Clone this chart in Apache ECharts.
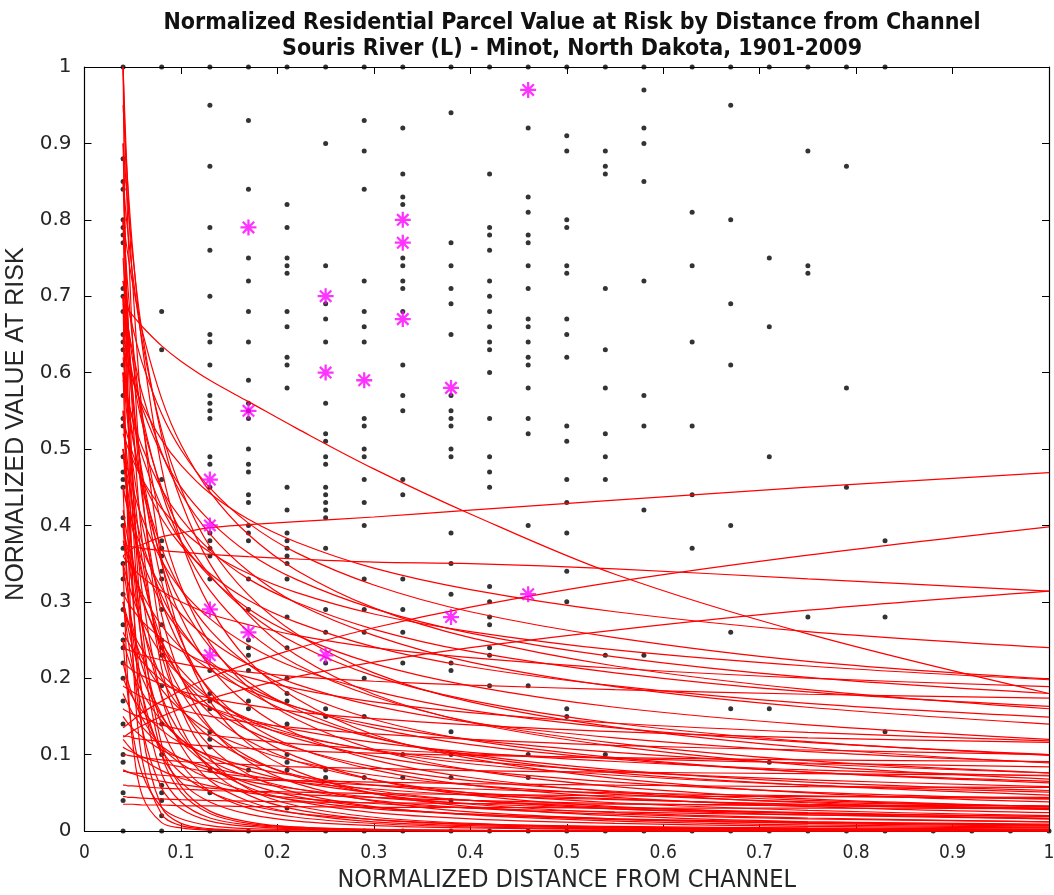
<!DOCTYPE html>
<html>
<head>
<meta charset="utf-8">
<script src="https://cdn.jsdelivr.net/npm/echarts@6/dist/echarts.min.js"></script>
<style>
  html, body { margin: 0; padding: 0; background: #fff; }
  #chart { width: 1054px; height: 895px; }
</style>
</head>
<body>
<div id="chart"></div>
<script>
// ---- Axis ticks ----
const xTicks = [0, 0.1, 0.2, 0.3, 0.4, 0.5, 0.6, 0.7, 0.8, 0.9, 1];
const yTicks = [0, 0.1, 0.2, 0.3, 0.4, 0.5, 0.6, 0.7, 0.8, 0.9, 1];

// ---- Parcel observations: distance columns and values at risk in each ----
const parcelDistances = [0.04, 0.08, 0.13, 0.17, 0.21, 0.25, 0.29, 0.33, 0.38, 0.42, 0.46, 0.5,
  0.54, 0.58, 0.63, 0.67, 0.71, 0.75, 0.79, 0.83, 0.88, 0.92, 0.96, 1.0];
const parcelValues = [
  [1, 0.88, 0.85, 0.84, 0.80, 0.79, 0.78, 0.77, 0.71, 0.70, 0.68, 0.65, 0.64, 0.63, 0.61, 0.57, 0.54, 0.53, 0.49, 0.47, 0.46, 0.45, 0.41, 0.40, 0.37, 0.35, 0.33, 0.31, 0.29, 0.27, 0.25, 0.24, 0.22, 0.20, 0.17, 0.14, 0.10, 0.09, 0.05, 0.04, 0],
  [1, 0.68, 0.63, 0.46, 0.38, 0.37, 0.36, 0.34, 0.33, 0.29, 0.27, 0.25, 0.24, 0.23, 0.19, 0.14, 0.10, 0.06, 0.05, 0.04, 0.02, 0],
  [1, 0.95, 0.87, 0.79, 0.76, 0.70, 0.65, 0.64, 0.61, 0.57, 0.56, 0.55, 0.54, 0.49, 0.48, 0.45, 0.39, 0.38, 0.37, 0.36, 0.33, 0.21, 0.18, 0.17, 0.16, 0.13, 0.12, 0.11, 0.08, 0.05, 0],
  [1, 0.93, 0.84, 0.75, 0.72, 0.68, 0.64, 0.59, 0.56, 0.55, 0.54, 0.50, 0.48, 0.47, 0.44, 0.43, 0.40, 0.39, 0.38, 0.33, 0.29, 0.25, 0.24, 0.23, 0.21, 0.17, 0.16, 0.08, 0],
  [1, 0.82, 0.79, 0.75, 0.74, 0.73, 0.68, 0.66, 0.62, 0.61, 0.58, 0.45, 0.42, 0.39, 0.38, 0.37, 0.36, 0.35, 0.33, 0.28, 0.24, 0.20, 0.18, 0.17, 0.14, 0.10, 0.09, 0.08, 0.03, 0],
  [1, 0.90, 0.74, 0.69, 0.67, 0.64, 0.56, 0.52, 0.51, 0.49, 0.48, 0.45, 0.44, 0.43, 0.42, 0.41, 0.37, 0.29, 0.26, 0.22, 0.16, 0.15, 0.08, 0.07, 0],
  [1, 0.93, 0.89, 0.84, 0.72, 0.68, 0.66, 0.64, 0.54, 0.53, 0.50, 0.49, 0.46, 0.43, 0.40, 0.33, 0.29, 0.26, 0.20, 0.15, 0.07, 0],
  [1, 0.92, 0.86, 0.83, 0.82, 0.75, 0.74, 0.72, 0.71, 0.68, 0.61, 0.57, 0.55, 0.46, 0.44, 0.33, 0.29, 0.26, 0.22, 0.10, 0.07, 0],
  [1, 0.94, 0.77, 0.74, 0.71, 0.69, 0.65, 0.57, 0.55, 0.54, 0.53, 0.50, 0.49, 0.39, 0.35, 0.31, 0.22, 0.21, 0.13, 0.10, 0.07, 0.04, 0],
  [1, 0.86, 0.79, 0.78, 0.76, 0.72, 0.70, 0.68, 0.66, 0.64, 0.63, 0.60, 0.54, 0.49, 0.47, 0.45, 0.32, 0.30, 0.28, 0.27, 0.24, 0.23, 0.19, 0],
  [1, 0.92, 0.83, 0.81, 0.78, 0.77, 0.74, 0.71, 0.67, 0.66, 0.64, 0.62, 0.61, 0.58, 0.54, 0.52, 0.40, 0.19, 0.10, 0.07, 0],
  [1, 0.91, 0.89, 0.80, 0.79, 0.74, 0.73, 0.67, 0.65, 0.62, 0.53, 0.51, 0.46, 0.43, 0.39, 0.34, 0.30, 0.16, 0.15, 0],
  [1, 0.89, 0.87, 0.86, 0.71, 0.63, 0.58, 0.52, 0.49, 0.46, 0.23, 0.10, 0],
  [1, 0.97, 0.92, 0.90, 0.85, 0.72, 0.57, 0.53, 0.42, 0.23, 0],
  [1, 0.81, 0.74, 0.64, 0.53, 0.44, 0.37, 0],
  [1, 0.95, 0.80, 0.69, 0.61, 0.40, 0.26, 0.16, 0],
  [1, 0.75, 0.66, 0.49, 0.16, 0.09, 0],
  [1, 0.89, 0.74, 0.73, 0.28, 0],
  [1, 0.87, 0.58, 0.45, 0],
  [1, 0.38, 0.28, 0.13, 0],
  [0], [0], [0], [0]
];

// ---- Highlighted parcels (magenta asterisks) ----
const highlightX = [0.13, 0.13, 0.13, 0.13, 0.17, 0.17, 0.17, 0.25, 0.25, 0.25, 0.29, 0.33, 0.33, 0.33, 0.38, 0.38, 0.46, 0.46];
const highlightY = [0.46, 0.40, 0.29, 0.23, 0.79, 0.55, 0.26, 0.70, 0.60, 0.23, 0.59, 0.80, 0.77, 0.67, 0.58, 0.28, 0.97, 0.31];

// ---- Fitted value-at-risk curves, sampled at these distances ----
const curveX = [0.04, 0.042, 0.045, 0.05, 0.06, 0.08, 0.1, 0.13, 0.17, 0.22, 0.3, 0.4, 0.55, 0.75, 1.0];

const steepCurves = [
  [1.0, 0.783, 0.555, 0.328, 0.132, 0.031, 0.010, 0.003, 0.001, 0, 0, 0, 0, 0, 0],
  [0.9, 0.778, 0.632, 0.461, 0.266, 0.113, 0.058, 0.026, 0.012, 0.005, 0.002, 0.001, 0, 0, 0],
  [0.8, 0.691, 0.562, 0.41, 0.237, 0.1, 0.051, 0.023, 0.01, 0.005, 0.002, 0.001, 0, 0, 0],
  [0.7, 0.548, 0.389, 0.23, 0.092, 0.022, 0.007, 0.002, 0, 0, 0, 0, 0, 0, 0],
  [0.6, 0.518, 0.421, 0.307, 0.178, 0.075, 0.038, 0.017, 0.008, 0.004, 0.001, 0, 0, 0, 0],
  [0.45, 0.389, 0.316, 0.23, 0.133, 0.056, 0.029, 0.013, 0.006, 0.003, 0.001, 0, 0, 0, 0],
  [0.35, 0.274, 0.194, 0.115, 0.046, 0.011, 0.004, 0.001, 0, 0, 0, 0, 0, 0, 0],
  [0.25, 0.216, 0.176, 0.128, 0.074, 0.031, 0.016, 0.007, 0.003, 0.002, 0.001, 0, 0, 0, 0]
];

const hyperbolicCurves = [
  [1.0, 0.907, 0.79, 0.64, 0.444, 0.25, 0.16, 0.095, 0.055, 0.033, 0.018, 0.01, 0.005, 0.003, 0.002],
  [0.85, 0.771, 0.672, 0.544, 0.378, 0.213, 0.136, 0.081, 0.047, 0.028, 0.015, 0.0085, 0.0045, 0.0024, 0.0014],
  [0.7, 0.635, 0.553, 0.448, 0.311, 0.175, 0.112, 0.066, 0.039, 0.023, 0.012, 0.007, 0.0037, 0.002, 0.0011],
  [0.55, 0.499, 0.435, 0.352, 0.244, 0.138, 0.088, 0.052, 0.03, 0.018, 0.0098, 0.0055, 0.0029, 0.0015, 0.0009],
  [0.4, 0.363, 0.316, 0.256, 0.178, 0.1, 0.064, 0.038, 0.022, 0.013, 0.007, 0.004, 0.002, 0.001, 0.0006],
  [1.0, 0.929, 0.838, 0.716, 0.544, 0.354, 0.253, 0.17, 0.114, 0.078, 0.049, 0.032, 0.02, 0.012, 0.008],
  [0.8, 0.743, 0.67, 0.573, 0.435, 0.283, 0.202, 0.136, 0.091, 0.062, 0.039, 0.025, 0.016, 0.01, 0.0064],
  [0.65, 0.604, 0.545, 0.465, 0.354, 0.23, 0.164, 0.111, 0.074, 0.05, 0.032, 0.021, 0.013, 0.008, 0.0052],
  [0.5, 0.465, 0.419, 0.358, 0.272, 0.177, 0.127, 0.085, 0.057, 0.039, 0.024, 0.016, 0.01, 0.006, 0.004],
  [0.3, 0.279, 0.251, 0.215, 0.163, 0.106, 0.076, 0.051, 0.034, 0.023, 0.015, 0.009, 0.006, 0.004, 0.0024],
  [0.75, 0.707, 0.651, 0.574, 0.461, 0.326, 0.25, 0.182, 0.132, 0.097, 0.067, 0.047, 0.032, 0.023, 0.016],
  [0.55, 0.519, 0.477, 0.421, 0.338, 0.239, 0.183, 0.134, 0.097, 0.071, 0.049, 0.035, 0.024, 0.017, 0.012]
];

const inverseCurves = [
  [0.95, 0.904, 0.845, 0.76, 0.634, 0.475, 0.38, 0.293, 0.223, 0.173, 0.126, 0.095, 0.069, 0.05, 0.038],
  [0.8, 0.762, 0.711, 0.64, 0.534, 0.4, 0.32, 0.246, 0.188, 0.146, 0.107, 0.08, 0.058, 0.042, 0.032],
  [0.7, 0.666, 0.622, 0.56, 0.467, 0.35, 0.28, 0.215, 0.165, 0.127, 0.093, 0.07, 0.051, 0.037, 0.028],
  [0.6, 0.571, 0.533, 0.48, 0.4, 0.3, 0.24, 0.185, 0.141, 0.109, 0.08, 0.06, 0.044, 0.032, 0.024],
  [0.5, 0.476, 0.445, 0.4, 0.334, 0.25, 0.2, 0.154, 0.118, 0.091, 0.067, 0.05, 0.037, 0.027, 0.02],
  [0.4, 0.381, 0.356, 0.32, 0.267, 0.2, 0.16, 0.123, 0.094, 0.073, 0.053, 0.04, 0.029, 0.021, 0.016],
  [0.3, 0.286, 0.267, 0.24, 0.2, 0.15, 0.12, 0.092, 0.071, 0.055, 0.04, 0.03, 0.022, 0.016, 0.012],
  [0.22, 0.209, 0.196, 0.176, 0.147, 0.11, 0.088, 0.068, 0.052, 0.04, 0.029, 0.022, 0.016, 0.012, 0.009],
  [0.9, 0.866, 0.819, 0.753, 0.651, 0.517, 0.432, 0.35, 0.283, 0.23, 0.179, 0.142, 0.111, 0.086, 0.068],
  [0.62, 0.596, 0.564, 0.519, 0.448, 0.356, 0.298, 0.241, 0.195, 0.159, 0.123, 0.098, 0.076, 0.06, 0.047],
  [0.42, 0.404, 0.382, 0.352, 0.304, 0.241, 0.202, 0.163, 0.132, 0.108, 0.084, 0.066, 0.052, 0.04, 0.032]
];

const gentleCurves = [
  [0.85, 0.821, 0.783, 0.728, 0.64, 0.524, 0.448, 0.372, 0.309, 0.258, 0.207, 0.169, 0.136, 0.109, 0.089],
  [0.72, 0.696, 0.663, 0.616, 0.542, 0.444, 0.379, 0.315, 0.261, 0.218, 0.176, 0.143, 0.115, 0.092, 0.076],
  [0.6, 0.58, 0.553, 0.514, 0.452, 0.37, 0.316, 0.263, 0.218, 0.182, 0.146, 0.119, 0.096, 0.077, 0.063],
  [0.5, 0.483, 0.461, 0.428, 0.377, 0.308, 0.264, 0.219, 0.182, 0.152, 0.122, 0.1, 0.08, 0.064, 0.053],
  [0.4, 0.386, 0.368, 0.342, 0.301, 0.246, 0.211, 0.175, 0.145, 0.121, 0.098, 0.08, 0.064, 0.051, 0.042],
  [0.3, 0.29, 0.276, 0.257, 0.226, 0.185, 0.158, 0.131, 0.109, 0.091, 0.073, 0.06, 0.048, 0.038, 0.032],
  [0.8, 0.781, 0.754, 0.716, 0.654, 0.566, 0.506, 0.444, 0.388, 0.341, 0.292, 0.253, 0.216, 0.185, 0.16],
  [0.7, 0.683, 0.66, 0.627, 0.572, 0.495, 0.442, 0.389, 0.34, 0.298, 0.256, 0.221, 0.189, 0.162, 0.14],
  [0.6, 0.586, 0.566, 0.537, 0.49, 0.424, 0.379, 0.333, 0.291, 0.256, 0.219, 0.19, 0.162, 0.139, 0.12],
  [0.5, 0.488, 0.472, 0.448, 0.409, 0.354, 0.316, 0.278, 0.243, 0.213, 0.183, 0.158, 0.135, 0.116, 0.1],
  [0.45, 0.439, 0.424, 0.403, 0.368, 0.318, 0.284, 0.25, 0.218, 0.192, 0.164, 0.142, 0.122, 0.104, 0.09],
  [0.38, 0.371, 0.358, 0.34, 0.31, 0.269, 0.24, 0.211, 0.184, 0.162, 0.139, 0.12, 0.103, 0.088, 0.076],
  [0.29, 0.283, 0.273, 0.26, 0.237, 0.205, 0.183, 0.161, 0.141, 0.124, 0.106, 0.092, 0.078, 0.067, 0.058],
  [0.68, 0.66, 0.634, 0.595, 0.533, 0.449, 0.392, 0.335, 0.286, 0.245, 0.203, 0.171, 0.141, 0.117, 0.099],
  [0.45, 0.437, 0.419, 0.394, 0.353, 0.297, 0.26, 0.222, 0.189, 0.162, 0.135, 0.113, 0.094, 0.077, 0.065],
  [0.35, 0.34, 0.326, 0.306, 0.274, 0.231, 0.202, 0.173, 0.147, 0.126, 0.105, 0.088, 0.073, 0.06, 0.051],
  [0.2, 0.194, 0.186, 0.175, 0.157, 0.132, 0.115, 0.099, 0.084, 0.072, 0.06, 0.05, 0.042, 0.034, 0.029]
];

const shallowCurves = [
  [0.72, 0.706, 0.687, 0.659, 0.612, 0.546, 0.499, 0.449, 0.403, 0.364, 0.322, 0.287, 0.253, 0.222, 0.199],
  [0.65, 0.638, 0.62, 0.595, 0.553, 0.493, 0.45, 0.406, 0.364, 0.329, 0.291, 0.259, 0.228, 0.201, 0.18],
  [0.59, 0.579, 0.563, 0.54, 0.502, 0.447, 0.409, 0.368, 0.33, 0.299, 0.264, 0.235, 0.207, 0.182, 0.163],
  [0.54, 0.53, 0.515, 0.494, 0.459, 0.409, 0.374, 0.337, 0.302, 0.273, 0.241, 0.215, 0.19, 0.167, 0.149],
  [0.63, 0.621, 0.608, 0.589, 0.558, 0.512, 0.479, 0.442, 0.408, 0.378, 0.344, 0.316, 0.287, 0.261, 0.24],
  [0.52, 0.513, 0.502, 0.486, 0.46, 0.422, 0.395, 0.365, 0.337, 0.312, 0.284, 0.261, 0.237, 0.216, 0.198],
  [0.31, 0.306, 0.299, 0.29, 0.274, 0.252, 0.236, 0.218, 0.201, 0.186, 0.169, 0.155, 0.141, 0.129, 0.118],
  [0.26, 0.255, 0.248, 0.238, 0.221, 0.197, 0.18, 0.162, 0.146, 0.132, 0.116, 0.103, 0.091, 0.08, 0.072],
  [0.36, 0.356, 0.352, 0.344, 0.332, 0.314, 0.3, 0.284, 0.27, 0.256, 0.24, 0.227, 0.213, 0.2, 0.189],
  [0.22, 0.218, 0.215, 0.21, 0.203, 0.192, 0.183, 0.174, 0.165, 0.156, 0.147, 0.139, 0.13, 0.122, 0.116],
  [0.19, 0.188, 0.186, 0.182, 0.175, 0.165, 0.158, 0.15, 0.142, 0.135, 0.127, 0.12, 0.112, 0.106, 0.1],
  [0.16, 0.158, 0.156, 0.153, 0.148, 0.139, 0.133, 0.126, 0.12, 0.114, 0.107, 0.101, 0.095, 0.089, 0.084],
  [0.24, 0.239, 0.237, 0.235, 0.23, 0.224, 0.219, 0.213, 0.208, 0.202, 0.196, 0.191, 0.185, 0.179, 0.174],
  [0.125, 0.124, 0.124, 0.122, 0.12, 0.117, 0.114, 0.111, 0.108, 0.105, 0.102, 0.099, 0.096, 0.093, 0.091],
  [0.1, 0.1, 0.099, 0.098, 0.096, 0.093, 0.091, 0.089, 0.087, 0.084, 0.082, 0.079, 0.077, 0.075, 0.073],
  [0.078, 0.078, 0.077, 0.076, 0.075, 0.073, 0.071, 0.069, 0.067, 0.066, 0.064, 0.062, 0.06, 0.058, 0.057]
];

const lowCurves = [
  [0.06, 0.06, 0.059, 0.059, 0.058, 0.056, 0.055, 0.053, 0.052, 0.051, 0.049, 0.048, 0.046, 0.045, 0.044],
  [0.045, 0.045, 0.044, 0.044, 0.043, 0.042, 0.041, 0.04, 0.039, 0.038, 0.037, 0.036, 0.035, 0.034, 0.033],
  [0.035, 0.035, 0.035, 0.035, 0.034, 0.034, 0.033, 0.033, 0.032, 0.032, 0.031, 0.031, 0.03, 0.03, 0.029],
  [0.15, 0.146, 0.141, 0.134, 0.123, 0.106, 0.095, 0.083, 0.073, 0.064, 0.055, 0.047, 0.041, 0.035, 0.03],
  [0.11, 0.108, 0.106, 0.103, 0.097, 0.089, 0.084, 0.077, 0.071, 0.066, 0.06, 0.055, 0.05, 0.046, 0.042],
  [0.08, 0.079, 0.077, 0.075, 0.071, 0.065, 0.061, 0.056, 0.052, 0.048, 0.044, 0.04, 0.036, 0.033, 0.03],
  [0.25, 0.241, 0.228, 0.209, 0.181, 0.144, 0.12, 0.097, 0.079, 0.064, 0.05, 0.04, 0.031, 0.024, 0.019],
  [0.35, 0.33, 0.304, 0.268, 0.215, 0.152, 0.117, 0.085, 0.062, 0.045, 0.031, 0.022, 0.015, 0.011, 0.0074],
  [0.18, 0.174, 0.166, 0.154, 0.136, 0.111, 0.095, 0.079, 0.065, 0.055, 0.044, 0.036, 0.029, 0.023, 0.019],
  [0.12, 0.117, 0.112, 0.105, 0.094, 0.079, 0.069, 0.059, 0.05, 0.043, 0.036, 0.03, 0.025, 0.021, 0.017]
];

const flatCurves = [
  [0.69, 0.686, 0.682, 0.675, 0.66, 0.635, 0.615, 0.59, 0.562, 0.527, 0.474, 0.415, 0.336, 0.258, 0.18],
  [0.36, 0.362, 0.365, 0.37, 0.375, 0.385, 0.39, 0.397, 0.401, 0.405, 0.411, 0.42, 0.433, 0.45, 0.469],
  [0.135, 0.137, 0.14, 0.145, 0.155, 0.17, 0.184, 0.201, 0.219, 0.239, 0.266, 0.293, 0.326, 0.361, 0.398],
  [0.123, 0.124, 0.127, 0.131, 0.138, 0.15, 0.16, 0.173, 0.187, 0.202, 0.221, 0.24, 0.263, 0.289, 0.314],
  [0.375, 0.374, 0.373, 0.372, 0.37, 0.367, 0.365, 0.362, 0.359, 0.356, 0.352, 0.35, 0.343, 0.33, 0.314]
];

// ---- Build series ----
const allCurves = [].concat(steepCurves, hyperbolicCurves, inverseCurves, gentleCurves, shallowCurves, lowCurves, flatCurves);

const parcelPoints = [];
parcelDistances.forEach(function (d, i) {
  parcelValues[i].forEach(function (v) { parcelPoints.push([d, v]); });
});
const highlightPoints = highlightX.map(function (x, i) { return [x, highlightY[i]]; });

// eight-armed asterisk marker
const asterisk = 'path://M-1,-7L1,-7L1,7L-1,7Z' +
  'M-7,-1L7,-1L7,1L-7,1Z' +
  'M-5.7,-4.3L-4.3,-5.7L5.7,4.3L4.3,5.7Z' +
  'M4.3,-5.7L5.7,-4.3L-4.3,5.7L-5.7,4.3Z';

const series = [];
series.push({
  type: 'scatter', data: parcelPoints, symbol: 'circle', symbolSize: 5,
  itemStyle: { color: '#000' }, z: 1, silent: true
});
allCurves.forEach(function (ys) {
  series.push({
    type: 'line',
    data: curveX.map(function (x, i) { return [x, ys[i]]; }),
    showSymbol: false, smooth: 0.35,
    lineStyle: { color: '#ff0000', width: 1.2 },
    z: 2, silent: true, clip: true
  });
});
series.push({
  type: 'scatter', data: highlightPoints, symbol: asterisk, symbolSize: 16,
  itemStyle: { color: '#ff00ff' }, z: 3, silent: true
});

const narrowFont = '"Liberation Sans Narrow", "DejaVu Sans Condensed", sans-serif';
const tickFontX = { fontFamily: narrowFont, fontSize: 19, color: '#262626' };
const tickFontY = { fontFamily: '"DejaVu Sans", sans-serif', fontSize: 20, color: '#262626' };

function tickText(list) {
  return function (v) {
    const r = Math.round(v * 10) / 10;
    return list.indexOf(r) >= 0 ? String(r) : '';
  };
}

const chart = echarts.init(document.getElementById('chart'), null, { renderer: 'canvas' });
chart.setOption({
  animation: false,
  backgroundColor: '#ffffff',
  title: {
    text: 'Normalized Residential Parcel Value at Risk by Distance from Channel\nSouris River (L) - Minot, North Dakota, 1901-2009',
    left: 567, top: 5, textAlign: 'center',
    textStyle: {
      fontFamily: narrowFont, fontWeight: 'bold', fontSize: 23, lineHeight: 26, color: '#111'
    }
  },
  grid: { left: 84.5, right: 5, top: 67, bottom: 64, outerBoundsMode: 'none', containLabel: false },
  xAxis: [{
    type: 'value', min: 0, max: 1, interval: 0.1, position: 'bottom',
    name: 'NORMALIZED DISTANCE FROM CHANNEL', nameLocation: 'middle', nameGap: 37,
    nameTextStyle: { fontFamily: narrowFont, fontSize: 25, color: '#262626' },
    axisLine: { show: true, onZero: false, lineStyle: { color: '#000', width: 1.2 } },
    axisTick: { show: true, inside: true, length: 7, lineStyle: { color: '#000' } },
    axisLabel: Object.assign({ margin: 13, formatter: tickText(xTicks) }, tickFontX),
    splitLine: { show: false }
  }, {
    type: 'value', min: 0, max: 1, interval: 0.1, position: 'top',
    axisLine: { show: true, onZero: false, lineStyle: { color: '#000', width: 1.2 } },
    axisTick: { show: true, inside: true, length: 7, lineStyle: { color: '#000' } },
    axisLabel: { show: false }, splitLine: { show: false }
  }],
  yAxis: [{
    type: 'value', min: 0, max: 1, interval: 0.1, position: 'left',
    name: 'NORMALIZED VALUE AT RISK', nameLocation: 'middle', nameGap: 48, nameRotate: 90,
    nameTextStyle: { fontFamily: '"Liberation Sans", Arial, sans-serif', fontSize: 25, color: '#262626', padding: [0, 0, 0, 50] },
    axisLine: { show: true, onZero: false, lineStyle: { color: '#000', width: 1.2 } },
    axisTick: { show: true, inside: true, length: 7, lineStyle: { color: '#000' } },
    axisLabel: Object.assign({ margin: 13, formatter: tickText(yTicks) }, tickFontY),
    splitLine: { show: false }
  }, {
    type: 'value', min: 0, max: 1, interval: 0.1, position: 'right',
    axisLine: { show: true, onZero: false, lineStyle: { color: '#000', width: 1.2 } },
    axisTick: { show: true, inside: true, length: 7, lineStyle: { color: '#000' } },
    axisLabel: { show: false }, splitLine: { show: false }
  }],
  series: series
});
</script>
</body>
</html>
